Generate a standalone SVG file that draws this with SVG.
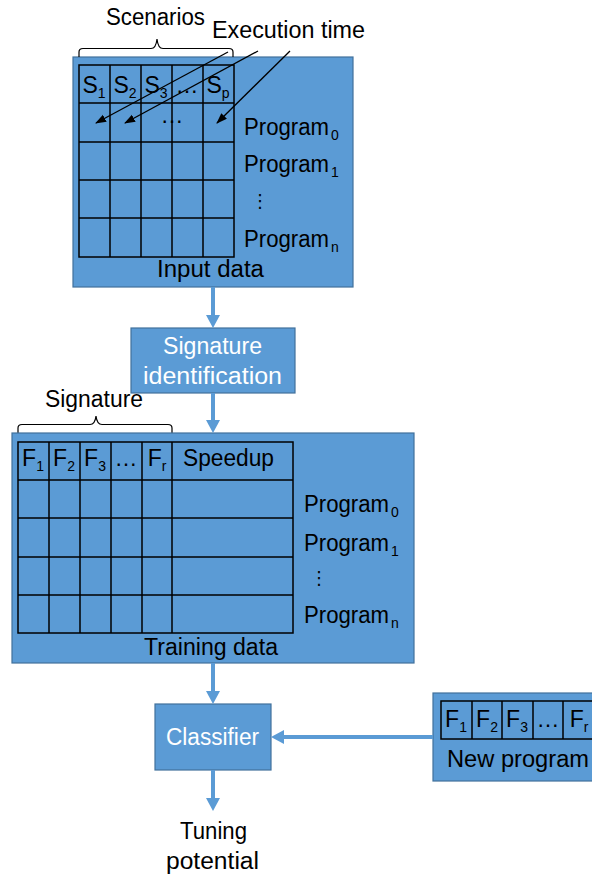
<svg xmlns="http://www.w3.org/2000/svg" width="592" height="878" viewBox="0 0 592 878">
<defs>
<style>
.box{fill:#5B9BD5;stroke:#41719C;stroke-width:1.2}
.grid{fill:none;stroke:#000;stroke-width:1.5}
.t{font-family:"Liberation Sans",Arial,sans-serif;font-size:23px;fill:#000}
.w{fill:#fff}
.m{text-anchor:middle}
.sub{font-size:14px}
.conn{stroke:#5B9BD5;stroke-width:4;fill:none}
.brace{fill:none;stroke:#000;stroke-width:1.2}
.thin{stroke:#000;stroke-width:1.3;fill:none}
.dots{font-family:"DejaVu Sans",sans-serif;font-size:18px;fill:#000;text-anchor:middle}
</style>
<marker id="ah" markerUnits="userSpaceOnUse" markerWidth="14" markerHeight="14" refX="5" refY="7" orient="auto">
<path d="M0,0 L13,7 L0,14 z" fill="#5B9BD5"/>
</marker>
<marker id="bh" markerUnits="userSpaceOnUse" markerWidth="12" markerHeight="10" refX="10" refY="4" orient="auto">
<path d="M0,0 L11,4 L0,8 z" fill="#000"/>
</marker>
</defs>

<g id="input-data">
<rect class="box" x="73" y="57" width="280" height="230"/>
<rect class="grid" x="79" y="65" width="155" height="192"/>
<path class="grid" d="M110,65V257M141,65V257M172,65V257M203,65V257M79,103H234M79,142H234M79,180H234M79,218H234"/>
<text class="t m" x="94" y="93">S<tspan class="sub" dy="5">1</tspan></text>
<text class="t m" x="125" y="93">S<tspan class="sub" dy="5">2</tspan></text>
<text class="t m" x="156" y="93">S<tspan class="sub" dy="5">3</tspan></text>
<text class="t m" x="187" y="93">…</text>
<text class="t m" x="218" y="93">S<tspan class="sub" dy="5">p</tspan></text>
<text class="t m" x="172" y="123">…</text>
<text class="t" x="244" y="135"><tspan textLength="85" lengthAdjust="spacingAndGlyphs">Program</tspan><tspan class="sub" x="331" dy="5">0</tspan></text>
<text class="t" x="244" y="172"><tspan textLength="85" lengthAdjust="spacingAndGlyphs">Program</tspan><tspan class="sub" x="331" dy="5">1</tspan></text>
<text class="dots" x="260" y="207">⋮</text>
<text class="t" x="244" y="247"><tspan textLength="85" lengthAdjust="spacingAndGlyphs">Program</tspan><tspan class="sub" x="331" dy="5">n</tspan></text>
<text class="t" x="157" y="277" textLength="107" lengthAdjust="spacingAndGlyphs">Input data</text>
</g>

<g id="scenarios-label">
<path class="brace" d="M79,57V52Q79,48.5 83,48.5H151Q156,48.5 157,39Q158,48.5 163,48.5H229Q233,48.5 233,52V57"/>
<text class="t" x="106" y="25" textLength="99" lengthAdjust="spacingAndGlyphs">Scenarios</text>
</g>

<g id="execution-time-label">
<text class="t" x="212" y="38" textLength="153" lengthAdjust="spacingAndGlyphs">Execution time</text>
<line class="thin" x1="228" y1="52" x2="96" y2="123" marker-end="url(#bh)"/>
<line class="thin" x1="258" y1="51" x2="125" y2="123" marker-end="url(#bh)"/>
<line class="thin" x1="290" y1="51" x2="217" y2="123" marker-end="url(#bh)"/>
</g>

<g id="signature-identification">
<rect class="box" x="131" y="328" width="164" height="65"/>
<text class="t w" x="163" y="354" textLength="99" lengthAdjust="spacingAndGlyphs">Signature</text>
<text class="t w" x="143" y="384" textLength="139" lengthAdjust="spacingAndGlyphs">identification</text>
</g>

<g id="signature-label">
<path class="brace" d="M18,433V428Q18,424.5 22,424.5H90Q95,424.5 96,416Q97,424.5 102,424.5H168Q172,424.5 172,428V433"/>
<text class="t" x="45" y="407" textLength="98" lengthAdjust="spacingAndGlyphs">Signature</text>
</g>

<g id="training-data">
<rect class="box" x="12" y="433" width="402" height="230"/>
<rect class="grid" x="18" y="442" width="275" height="191"/>
<path class="grid" d="M49,442V633M80,442V633M111,442V633M142,442V633M172,442V633M18,480H293M18,518H293M18,557H293M18,595H293"/>
<text class="t m" x="33" y="466">F<tspan class="sub" dy="5">1</tspan></text>
<text class="t m" x="64" y="466">F<tspan class="sub" dy="5">2</tspan></text>
<text class="t m" x="95" y="466">F<tspan class="sub" dy="5">3</tspan></text>
<text class="t m" x="126" y="466">…</text>
<text class="t m" x="157" y="466">F<tspan class="sub" dy="5">r</tspan></text>
<text class="t" x="183" y="466" textLength="91" lengthAdjust="spacingAndGlyphs">Speedup</text>
<text class="t" x="304" y="512"><tspan textLength="85" lengthAdjust="spacingAndGlyphs">Program</tspan><tspan class="sub" x="391" dy="5">0</tspan></text>
<text class="t" x="304" y="551"><tspan textLength="85" lengthAdjust="spacingAndGlyphs">Program</tspan><tspan class="sub" x="391" dy="5">1</tspan></text>
<text class="dots" x="319" y="584">⋮</text>
<text class="t" x="304" y="623"><tspan textLength="85" lengthAdjust="spacingAndGlyphs">Program</tspan><tspan class="sub" x="391" dy="5">n</tspan></text>
<text class="t" x="144" y="655" textLength="134" lengthAdjust="spacingAndGlyphs">Training data</text>
</g>

<g id="classifier">
<rect class="box" x="155" y="704" width="116" height="66"/>
<text class="t w" x="166" y="745" textLength="93" lengthAdjust="spacingAndGlyphs">Classifier</text>
</g>

<g id="new-program">
<rect class="box" x="433" y="693" width="170" height="88"/>
<rect class="grid" x="441" y="701" width="160" height="38"/>
<path class="grid" d="M472,701V739M502,701V739M533,701V739M563,701V739M594,701V739"/>
<text class="t m" x="456" y="727">F<tspan class="sub" dy="5">1</tspan></text>
<text class="t m" x="487" y="727">F<tspan class="sub" dy="5">2</tspan></text>
<text class="t m" x="517" y="727">F<tspan class="sub" dy="5">3</tspan></text>
<text class="t m" x="548" y="727">…</text>
<text class="t m" x="579" y="727">F<tspan class="sub" dy="5">r</tspan></text>
<text class="t" x="447" y="767" textLength="142" lengthAdjust="spacingAndGlyphs">New program</text>
</g>

<g id="tuning-potential">
<text class="t" x="180" y="839" textLength="67" lengthAdjust="spacingAndGlyphs">Tuning</text>
<text class="t" x="166" y="869" textLength="93" lengthAdjust="spacingAndGlyphs">potential</text>
</g>

<g id="connectors">
<line class="conn" x1="213" y1="287" x2="213" y2="320" marker-end="url(#ah)"/>
<line class="conn" x1="213" y1="393" x2="213" y2="425" marker-end="url(#ah)"/>
<line class="conn" x1="213" y1="663" x2="213" y2="696" marker-end="url(#ah)"/>
<line class="conn" x1="433" y1="737" x2="279" y2="737" marker-end="url(#ah)"/>
<line class="conn" x1="213" y1="770" x2="213" y2="803" marker-end="url(#ah)"/>
</g>
</svg>
